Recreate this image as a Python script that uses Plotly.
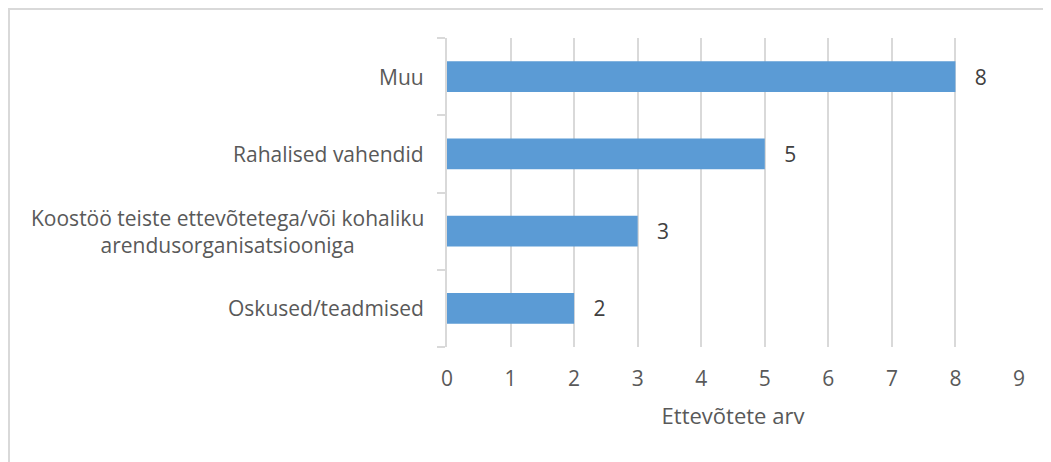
import plotly.graph_objects as go

# andmed (alt üles, nagu joonisel)
kategooriad = ["Oskused/teadmised",
               "Koostöö teiste ettevõtetega/või kohaliku<br>arendusorganisatsiooniga",
               "Rahalised vahendid",
               "Muu"]
vaartused = [2, 3, 5, 8]
x_tikid = [0, 1, 2, 3, 4, 5, 6, 7, 8, 9]

FONT = "Open Sans"
# lehe body-l on 8px ääris, seega kõik on 8px võrra nihutatud
W, H = 1043, 454
L, R, T, B = 439, 1011, 30, 339

fig = go.Figure()
fig.add_trace(go.Bar(
    y=kategooriad, x=vaartused, orientation="h",
    marker=dict(color="#5B9BD5", line=dict(width=0)),
    text=vaartused, texttemplate="   %{x}", textposition="outside",
    textfont=dict(family=FONT, size=21, color="#404040"),
    cliponaxis=False, width=0.4,
))

# kategooriate nimed keskjoondusega
for k in kategooriad:
    fig.add_annotation(x=0, xref="paper", y=k, yref="y", text=k,
                       xanchor="right", xshift=-21, showarrow=False,
                       align="center",
                       font=dict(family=FONT, size=21, color="#595959"))

pw, ph = R - L, B - T
fig.add_shape(type="rect", xref="paper", yref="paper",
              x0=(1 - L) / pw, x1=(W + 20 - L) / pw,
              y0=(B - (H + 20)) / ph, y1=(B - 1) / ph,
              line=dict(color="#D9D9D9", width=2), layer="below")

fig.update_layout(
    width=W, height=H,
    margin=dict(l=L, r=W - R, t=T, b=H - B),
    plot_bgcolor="white", paper_bgcolor="white",
    showlegend=False,
    font=dict(family=FONT, size=21, color="#595959"),
    xaxis=dict(range=[0, 9], tickvals=x_tikid, showgrid=True,
               gridcolor="#D9D9D9", gridwidth=1.5, zeroline=False,
               showline=False, ticks="", ticklabelstandoff=17,
               tickfont=dict(size=21, color="#595959"),
               title=dict(text="Ettevõtete arv", standoff=17,
                          font=dict(size=22, color="#595959"))),
    yaxis=dict(showticklabels=False, showline=True, linecolor="#D9D9D9",
               linewidth=1.5, ticks="outside", ticklen=8, tickcolor="#D9D9D9",
               tickwidth=1.5, tickson="boundaries", showgrid=False,
               range=[-0.5, 3.5]),
)

fig.write_html("out.html")
